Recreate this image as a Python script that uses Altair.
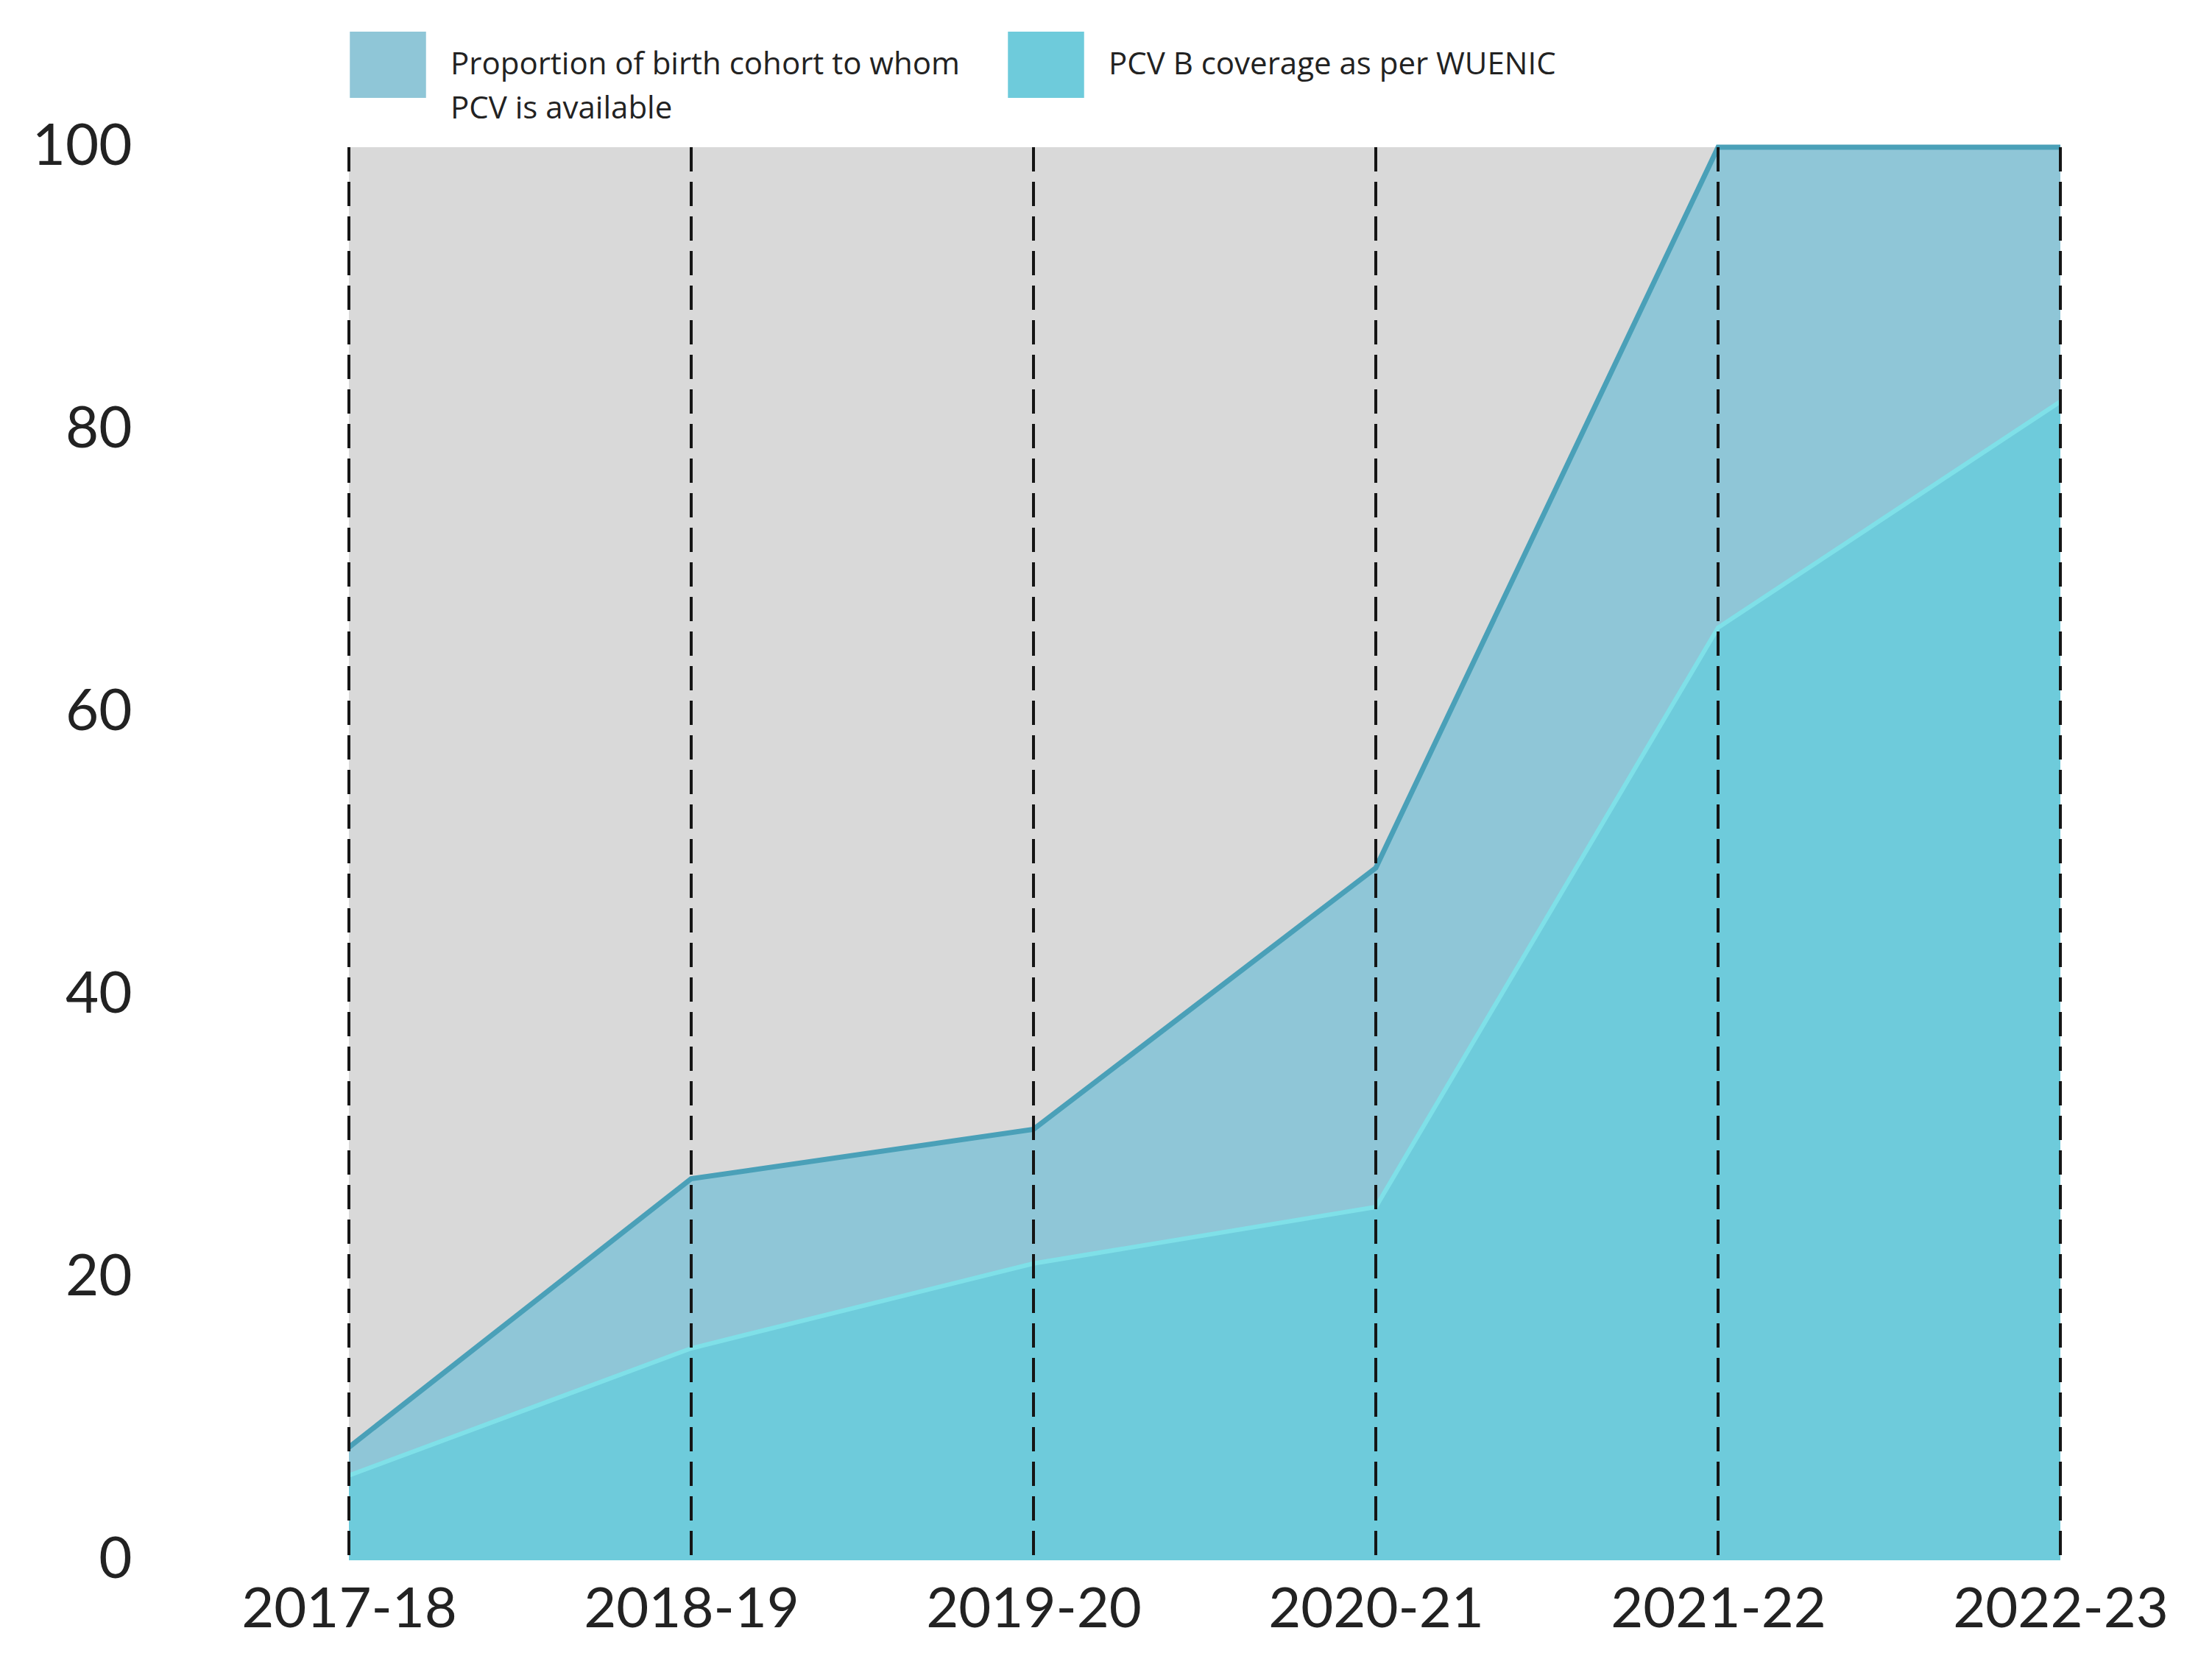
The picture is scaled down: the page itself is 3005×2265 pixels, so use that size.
import altair as alt
import pandas as pd

years = ["2017-18", "2018-19", "2019-20", "2020-21", "2021-22", "2022-23"]
available = [8, 27, 30.5, 49, 100, 100]
coverage = [6, 15, 21, 25, 66, 82]
series_names = ["Proportion of birth cohort to whom PCV is available",
                "PCV B coverage as per WUENIC"]
y_ticks = [0, 20, 40, 60, 80, 100]

df = pd.DataFrame({"year": years, "available": available, "coverage": coverage})

FILL_UP = "#8fc6d7"
FILL_LO = "#6ecbdb"

x_enc = alt.X("year:O", sort=years, scale=alt.Scale(type="point", padding=0),
              axis=alt.Axis(title=None, labelAngle=0, domain=False, ticks=False,
                            labelFontSize=76, labelFont="Lato", labelColor="#222222",
                            labelPadding=30, labelLimit=0))
y_scale = alt.Scale(domain=[0, 100], nice=False)
y_axis = alt.Axis(title=None, values=y_ticks, grid=False, domain=False, ticks=False,
                  labelFontSize=78, labelFont="Lato", labelColor="#222222",
                  labelPadding=295)

color_scale = alt.Scale(domain=series_names, range=[FILL_UP, FILL_LO])
legend = alt.Legend(
    title=None, orient="none", direction="horizontal", legendX=8, legendY=-157,
    symbolType="M-1.15,-1H1.15V1H-1.15Z", symbolSize=8100,
    symbolStrokeWidth=0, symbolOpacity=1,
    labelFont="Open Sans", labelFontSize=42, labelColor="#222222", labelOffset=40,
    columnPadding=65, labelLimit=1000,
    labelExpr=("datum.label == 'Proportion of birth cohort to whom PCV is available' ? "
               "['Proportion of birth cohort to whom', 'PCV is available'] : [datum.label, '']"),
)

base = alt.Chart(df)

area_up = base.mark_area(opacity=1).transform_calculate(
    series="'" + series_names[0] + "'"
).encode(
    x=x_enc,
    y=alt.Y("available:Q", scale=y_scale, axis=y_axis),
    color=alt.Color("series:N", scale=color_scale, legend=legend),
)
area_lo = base.mark_area(opacity=1).transform_calculate(
    series="'" + series_names[1] + "'"
).encode(
    x=x_enc,
    y=alt.Y("coverage:Q", scale=y_scale),
    color=alt.Color("series:N", scale=color_scale, legend=legend),
)
line_up = base.mark_line(color="#4aa0b8", strokeWidth=7).encode(
    x=x_enc, y=alt.Y("available:Q", scale=y_scale))
line_lo = base.mark_line(color="#7fe0e8", strokeWidth=6).encode(
    x=x_enc, y=alt.Y("coverage:Q", scale=y_scale))
rules = base.mark_rule(color="#151515", strokeWidth=4, strokeDash=[33, 14]).encode(
    x=x_enc)

chart = alt.layer(area_up, area_lo, line_up, line_lo, rules).properties(
    width=2325, height=1920,
    autosize=alt.AutoSizeParams(type="none"),
    padding={"left": 466, "top": 192, "right": 190, "bottom": 130},
    view=alt.ViewBackground(fill="#d9d9d9", stroke=None),
).configure(
    background="white",
    style={"guide-label": {"lineHeight": 60}},
)

chart.save("out.html", embed_options={"renderer": "svg", "actions": False})
